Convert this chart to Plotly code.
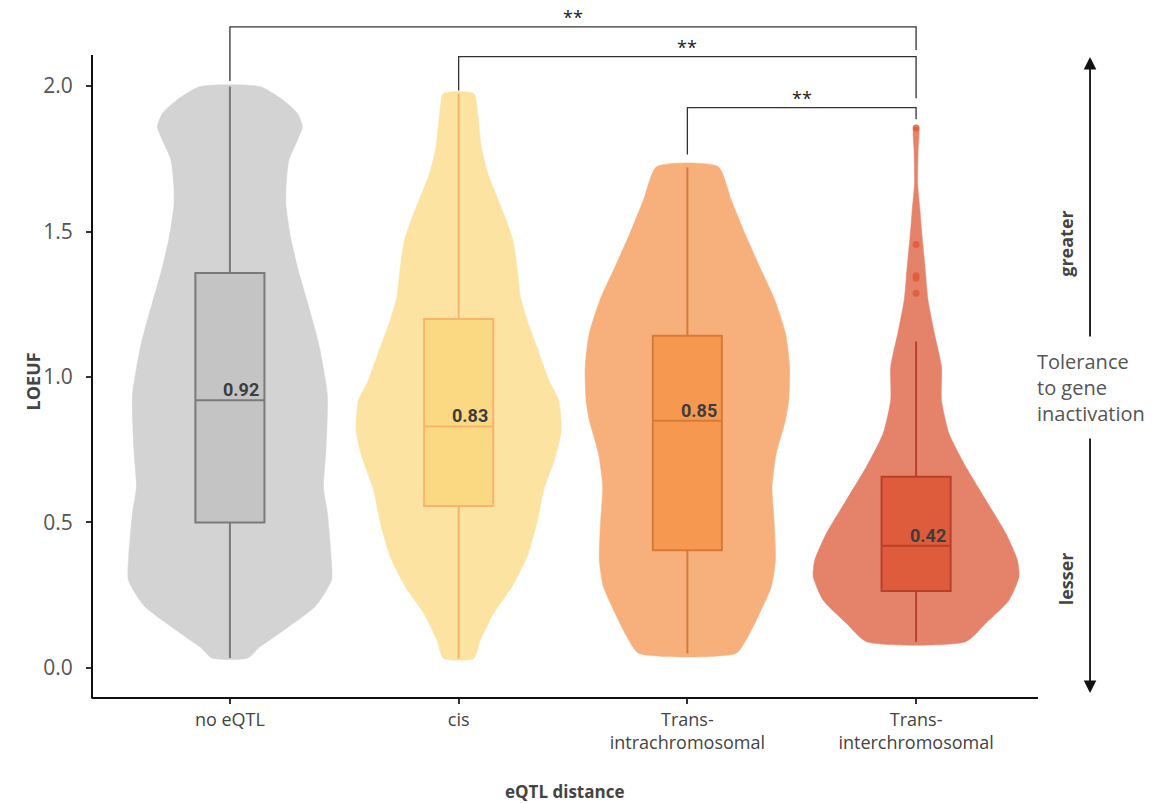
import plotly.graph_objects as go

# ---- data -------------------------------------------------------------
categories = ["no eQTL", "cis", "Trans-<br>intrachromosomal", "Trans-<br>interchromosomal"]

# violin outlines: LOEUF levels and half-width of the density at each level (category-axis units)
noeqtl_levels = [0.034, 0.07, 0.128, 0.214, 0.302, 0.388, 0.533, 0.62, 0.75, 0.938, 1.111,
                 1.256, 1.357, 1.473, 1.589, 1.654, 1.746, 1.814, 1.86, 1.906, 1.952, 1.998]
noeqtl_density = [0.079, 0.127, 0.232, 0.376, 0.444, 0.442, 0.426, 0.409, 0.420, 0.426, 0.389,
                  0.339, 0.302, 0.267, 0.245, 0.245, 0.258, 0.295, 0.317, 0.295, 0.232, 0.131]

cis_levels = [0.033, 0.096, 0.188, 0.279, 0.382, 0.497, 0.612, 0.726, 0.818, 0.921, 0.99,
              1.104, 1.196, 1.276, 1.379, 1.471, 1.54, 1.62, 1.70, 1.791, 1.906, 1.974]
cis_density = [0.066, 0.095, 0.153, 0.233, 0.299, 0.342, 0.372, 0.423, 0.449, 0.437, 0.394,
               0.342, 0.299, 0.270, 0.255, 0.237, 0.207, 0.167, 0.127, 0.099, 0.083, 0.066]

intra_levels = [0.051, 0.108, 0.188, 0.279, 0.371, 0.509, 0.623, 0.738, 0.852, 0.921, 1.035,
                1.15, 1.265, 1.379, 1.494, 1.608, 1.723]
intra_density = [0.214, 0.265, 0.316, 0.367, 0.385, 0.379, 0.370, 0.389, 0.429, 0.443, 0.447,
                 0.429, 0.382, 0.316, 0.251, 0.192, 0.134]

inter_levels = [0.09, 0.154, 0.234, 0.314, 0.371, 0.463, 0.577, 0.692, 0.806, 0.921, 1.035,
                1.15, 1.265, 1.379, 1.494, 1.574, 1.666, 1.78, 1.856]
inter_density = [0.216, 0.305, 0.407, 0.450, 0.443, 0.392, 0.305, 0.217, 0.144, 0.111, 0.111,
                 0.080, 0.052, 0.039, 0.025, 0.017, 0.007, 0.009, 0.011]

# box summaries
q1 = [0.50, 0.557, 0.405, 0.265]
median = [0.92, 0.83, 0.85, 0.42]
q3 = [1.357, 1.199, 1.142, 0.657]
lower_whisker = [0.034, 0.033, 0.05, 0.09]
upper_whisker = [1.998, 1.974, 1.72, 1.122]

# outliers of the interchromosomal group
inter_outliers = [1.856, 1.455, 1.348, 1.339, 1.288]

# significance brackets: (left group, right group, bar level, left leg end, right leg end)
brackets = [
    (0, 3, 2.203, 2.017, 2.124),
    (1, 3, 2.101, 1.985, 1.958),
    (2, 3, 1.926, 1.765, 1.886),
]
bracket_labels = ["**", "**", "**"]

# ---- styling ----------------------------------------------------------
violin_fill = ["#d3d3d3", "#fde3a1", "#f7b07c", "#e5836a"]
box_fill = ["#c4c4c4", "#fbd982", "#f79851", "#de5b3b"]
box_line = ["#7a7a7a", "#f9b36d", "#d67b37", "#b8402a"]
BOX_W = 0.302
X_RANGE = [-0.603, 3.533]
Y_RANGE = [-0.0997, 2.2784]

profiles = [
    (noeqtl_levels, noeqtl_density),
    (cis_levels, cis_density),
    (intra_levels, intra_density),
    (inter_levels, inter_density),
]

fig = go.Figure()

# violins: mirrored density outline around each category position
for i, (lv, dens) in enumerate(profiles):
    xs = [i - d for d in dens] + [i + d for d in reversed(dens)]
    ys = list(lv) + list(reversed(lv))
    xs.append(xs[0])
    ys.append(ys[0])
    fig.add_trace(go.Scatter(
        x=xs, y=ys, mode="lines", fill="toself",
        fillcolor=violin_fill[i],
        line=dict(color=violin_fill[i], width=0.5, shape="spline", smoothing=0.6),
        hoverinfo="skip", showlegend=False,
    ))

# boxes sit on an overlaying copy of the axes so they are drawn above the violins
for i in range(len(categories)):
    fig.add_trace(go.Box(
        x=[i], q1=[q1[i]], median=[median[i]], q3=[q3[i]],
        lowerfence=[lower_whisker[i]], upperfence=[upper_whisker[i]],
        width=BOX_W, whiskerwidth=0, boxpoints=False,
        fillcolor=box_fill[i], line=dict(color=box_line[i], width=2),
        hoverinfo="skip", showlegend=False, xaxis="x2", yaxis="y2",
    ))

fig.add_trace(go.Scatter(
    x=[3] * len(inter_outliers), y=inter_outliers, mode="markers",
    marker=dict(color="#e05a38", size=7, opacity=0.85, line=dict(width=0)),
    hoverinfo="skip", showlegend=False, xaxis="x2", yaxis="y2",
))

annotations = []
shapes = []

# median value labels
for i, m in enumerate(median):
    annotations.append(dict(
        x=i + BOX_W / 2, y=m, xref="x", yref="y", text=f"<b>{m:.2f}</b>",
        showarrow=False, xanchor="right", yanchor="bottom", xshift=-3, yshift=-2,
        font=dict(family="Roboto, Arial, sans-serif", size=18, color="#3d3d3d"),
    ))

# significance brackets
for (a, b, top, la, lb), lab in zip(brackets, bracket_labels):
    shapes.append(dict(
        type="path", xref="x", yref="y",
        path=f"M {a},{la} L {a},{top} L {b},{top} L {b},{lb}",
        line=dict(color="#333333", width=1.3),
    ))
    annotations.append(dict(
        x=(a + b) / 2, y=top, xref="x", yref="y", text=lab, showarrow=False,
        xanchor="center", yanchor="bottom", yshift=-4,
        font=dict(family="Open Sans", size=18, color="#222222"),
    ))

# left spine (stops short of the bracket area)
shapes.append(dict(type="line", xref="paper", yref="paper", x0=0, x1=0, y0=-0.002, y1=0.9277,
                   line=dict(color="#111111", width=2)))

# tolerance arrows on the right
arrow_x = 1.055
annotations.append(dict(x=arrow_x, y=0.9249, xref="paper", yref="paper", ax=0, ay=281,
                        text="", showarrow=True, arrowhead=2, arrowsize=1.4, arrowwidth=1.8,
                        arrowcolor="#111111", standoff=0))
annotations.append(dict(x=arrow_x, y=0.0058, xref="paper", yref="paper", ax=0, ay=-256,
                        text="", showarrow=True, arrowhead=2, arrowsize=1.4, arrowwidth=1.8,
                        arrowcolor="#111111", standoff=0))
annotations.append(dict(x=1.0, y=0.4479, xref="paper", yref="paper", xshift=-3,
                        text="Tolerance<br>to gene<br>inactivation", showarrow=False,
                        xanchor="left", yanchor="middle", align="left",
                        font=dict(family="Open Sans", size=20, color="#555555")))
annotations.append(dict(x=1.0296, y=0.655, xref="paper", yref="paper", text="<b>greater</b>",
                        showarrow=False, textangle=-90, xanchor="center", yanchor="middle",
                        font=dict(family="Open Sans", size=18, color="#444444")))
annotations.append(dict(x=1.0296, y=0.170, xref="paper", yref="paper", text="<b>lesser</b>",
                        showarrow=False, textangle=-90, xanchor="center", yanchor="middle",
                        font=dict(family="Open Sans", size=18, color="#444444")))

# axis titles
annotations.append(dict(x=-0.0624, y=0.456, xref="paper", yref="paper", text="<b>LOEUF</b>",
                        showarrow=False, textangle=-90, xanchor="center", yanchor="middle",
                        font=dict(family="Open Sans", size=18, color="#444444")))
annotations.append(dict(x=0.4995, y=-0.136, xref="paper", yref="paper", text="<b>eQTL distance</b>",
                        showarrow=False, xanchor="center", yanchor="middle",
                        font=dict(family="Open Sans", size=17, color="#444444")))

fig.update_layout(
    width=1163, height=803,
    margin=dict(l=92, r=125, t=5, b=106),
    plot_bgcolor="white", paper_bgcolor="white",
    showlegend=False,
    font=dict(family="Open Sans"),
    shapes=shapes, annotations=annotations,
    xaxis=dict(
        range=X_RANGE, tickmode="array", tickvals=list(range(len(categories))),
        ticktext=categories, showgrid=False, zeroline=False,
        showline=True, linecolor="#111111", linewidth=2,
        ticks="outside", ticklen=5, tickwidth=1.5, tickcolor="#333333",
        tickfont=dict(family="Open Sans", size=18, color="#444444"),
    ),
    yaxis=dict(
        range=Y_RANGE, tickmode="array", tickvals=[0, 0.5, 1.0, 1.5, 2.0],
        ticktext=["0.0", "0.5", "1.0", "1.5", "2.0"], showgrid=False, zeroline=False,
        showline=False, ticks="outside", ticklen=5, tickwidth=1.5, tickcolor="#333333",
        ticklabelstandoff=9,
        tickfont=dict(family="Open Sans", size=21, color="#555555"),
    ),
    xaxis2=dict(range=X_RANGE, overlaying="x", visible=False),
    yaxis2=dict(range=Y_RANGE, overlaying="y", visible=False),
)

fig.write_html("out.html")
